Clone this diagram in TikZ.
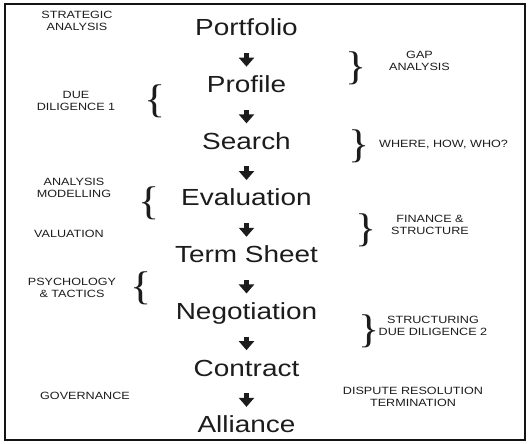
\documentclass[tikz,border=0pt]{standalone}
\usepackage{fontspec}
\setmainfont{Liberation Sans}
\newfontfamily\stagefont[FakeStretch=1.2]{Liberation Sans}
\newfontfamily\notefont[FakeStretch=1.2]{Liberation Sans}
\newfontfamily\bracefont[FakeStretch=1.1]{Liberation Serif}
\usetikzlibrary{arrows.meta,positioning}
\definecolor{inkgray}{RGB}{28,28,28}
\definecolor{framegray}{RGB}{20,20,20}

\begin{document}
\begin{tikzpicture}[x=1pt, y=-1pt,
    stage/.style={font=\stagefont\fontsize{23.3}{28}\selectfont, text=inkgray, inner sep=0pt, text height=16.7pt, text depth=0pt},
    note/.style={font=\notefont\fontsize{10.5}{11.8}\selectfont, text=inkgray, align=center, inner sep=0pt},
    curly/.style={font=\bracefont\fontsize{40}{40}\selectfont, text=inkgray, inner sep=0pt},
    flow/.style={-{Triangle[width=15pt,length=9pt]}, line width=4.5pt, draw=inkgray, shorten <=17pt, shorten >=9pt}]
    \useasboundingbox (0,0) rectangle (530,444);
    % Outer frame
    \draw[draw=framegray, line width=1.3pt] (5,4) rectangle (525,440);

    % Main stages
    \node[stage] (portfolio) at (246.5,27.5) {Portfolio};
    \node[stage, below=39.6pt of portfolio] (profile) {Profile};
    \node[stage, below=39.6pt of profile] (search) {Search};
    \node[stage, below=39.6pt of search] (evaluation) {Evaluation};
    \node[stage, below=39.6pt of evaluation] (termsheet) {Term Sheet};
    \node[stage, below=39.6pt of termsheet] (negotiation) {Negotiation};
    \node[stage, below=39.6pt of negotiation] (contract) {Contract};
    \node[stage, below=39.6pt of contract] (alliance) {Alliance};

    % Stage arrows
    \draw[flow] (portfolio) -- (profile);
    \draw[flow] (profile) -- (search);
    \draw[flow] (search) -- (evaluation);
    \draw[flow] (evaluation) -- (termsheet);
    \draw[flow] (termsheet) -- (negotiation);
    \draw[flow] (negotiation) -- (contract);
    \draw[flow] (contract) -- (alliance);

    % Left-hand notes
    \node[note] (strategic) at (77,21) {STRATEGIC\\ANALYSIS};
    \node[note] (duedil) at (76,101) {DUE\\DILIGENCE 1};
    \node[curly] (bduedil) at (155,101.5) {\{};
    \node[note] (modelling) at (74,187.5) {ANALYSIS\\MODELLING};
    \node[curly] (bmodelling) at (149,203) {\{};
    \node[note] (valuation) at (69,234) {VALUATION};
    \node[note] (psychology) at (72,288) {PSYCHOLOGY\\\& TACTICS};
    \node[curly] (bpsychology) at (141,288.5) {\{};
    \node[note] (governance) at (85,396) {GOVERNANCE};

    % Right-hand notes
    \node[curly] (bgap) at (356,68.5) {\}};
    \node[note] (gap) at (419.5,61) {GAP\\ANALYSIS};
    \node[curly] (bwhere) at (359,146) {\}};
    \node[note, anchor=west] (where) at (379,145) {WHERE, HOW, WHO?};
    \node[curly] (bfinance) at (366,230) {\}};
    \node[note] (finance) at (430,225) {FINANCE \&\\STRUCTURE};
    \node[curly] (bstructuring) at (369,331.5) {\}};
    \node[note] (structuring) at (433,326) {STRUCTURING\\DUE DILIGENCE 2};
    \node[note] (dispute) at (413,396.5) {DISPUTE RESOLUTION\\TERMINATION};
\end{tikzpicture}
\end{document}
